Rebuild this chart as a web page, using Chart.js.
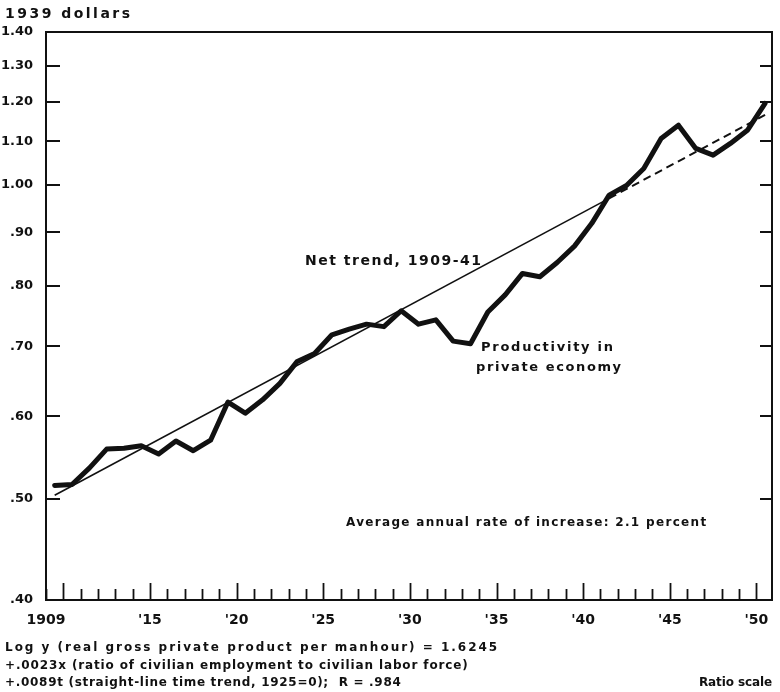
<!DOCTYPE html>
<html>
<head>
<meta charset="utf-8">
<script src="https://cdn.jsdelivr.net/npm/chart.js@4.4.1/dist/chart.umd.min.js"></script>
<style>
  html, body { margin: 0; padding: 0; background: #fff; }
  #wrap { width: 780px; height: 692px; }
</style>
</head>
<body>
<div id="wrap"><canvas id="chart" width="780" height="692"></canvas></div>
<script>
// productivity per manhour, 1939 dollars
const years = [1909, 1910, 1911, 1912, 1913, 1914, 1915, 1916, 1917, 1918,
  1919, 1920, 1921, 1922, 1923, 1924, 1925, 1926, 1927, 1928,
  1929, 1930, 1931, 1932, 1933, 1934, 1935, 1936, 1937, 1938,
  1939, 1940, 1941, 1942, 1943, 1944, 1945, 1946, 1947, 1948,
  1949, 1950];
const productivity = [0.515, 0.516, 0.535, 0.558, 0.559, 0.562, 0.552, 0.568, 0.556, 0.569,
  0.619, 0.604, 0.622, 0.645, 0.677, 0.689, 0.718, 0.727, 0.735, 0.731,
  0.757, 0.735, 0.742, 0.708, 0.704, 0.755, 0.784, 0.822, 0.816, 0.842,
  0.873, 0.918, 0.977, 0.998, 1.036, 1.107, 1.140, 1.083, 1.067, 1.095,
  1.128, 1.196];

// net trend 1909-41 (solid) and its extension (dashed)
const trendYears = [1909, 1941];
const trendValues = [0.504, 0.970];
const trendExtYears = [1941, 1950];
const trendExtValues = [0.970, 1.166];

const yTicks = [0.40, 0.50, 0.60, 0.70, 0.80, 0.90, 1.00, 1.10, 1.20, 1.30, 1.40];
const yTickLabels = ['.40', '.50', '.60', '.70', '.80', '.90', '1.00', '1.10', '1.20', '1.30', '1.40'];
const xLabelYears = [1909, 1915, 1920, 1925, 1930, 1935, 1940, 1945, 1950];
const xTickLabels = ['1909', "'15", "'20", "'25", "'30", "'35", "'40", "'45", "'50"];

const INK = '#111';
const FONT = '"DejaVu Sans", sans-serif';

// plotted at mid-year
const pts = (xs, vs) => xs.map((yr, i) => ({ x: yr + 0.5, y: vs[i] }));

function fitText(ctx, text, x, y, width, font) {
  ctx.font = font;
  ctx.letterSpacing = '0px';
  const w = ctx.measureText(text).width;
  const sp = (width - w) / Math.max(1, text.length - 1);
  ctx.letterSpacing = sp.toFixed(2) + 'px';
  ctx.fillText(text, x, y);
  ctx.letterSpacing = '0px';
}

const framePlugin = {
  id: 'frame',
  afterDraw(chart) {
    const { ctx, chartArea: a, scales: { x, y } } = chart;
    ctx.save();
    ctx.strokeStyle = INK;
    ctx.fillStyle = INK;

    // box
    ctx.lineWidth = 2;
    ctx.strokeRect(a.left, a.top, a.right - a.left, a.bottom - a.top);

    // y ticks, inward on both sides
    yTicks.forEach(v => {
      const py = Math.round(y.getPixelForValue(v));
      ctx.beginPath();
      ctx.moveTo(a.left, py); ctx.lineTo(a.left + 14, py);
      ctx.moveTo(a.right, py); ctx.lineTo(a.right - 12, py);
      ctx.stroke();
    });

    // x ticks, every year, longer at each 5
    ctx.lineWidth = 1.8;
    years.forEach(yr => {
      const px = Math.round(x.getPixelForValue(yr)) + 0.5;
      const len = yr % 5 === 0 ? 17 : 11;
      ctx.beginPath();
      ctx.moveTo(px, a.bottom); ctx.lineTo(px, a.bottom - len);
      ctx.stroke();
    });

    // texts
    ctx.textBaseline = 'middle';
    ctx.textAlign = 'left';
    const big = 'bold 14px ' + FONT;
    const mid = 'bold 13px ' + FONT;
    const small = 'bold 12px ' + FONT;
    fitText(ctx, '1939 dollars', 5, 14, 125, big);
    fitText(ctx, 'Net trend, 1909-41', 305, 261, 176, big);
    fitText(ctx, 'Productivity in', 481, 348, 132, mid);
    fitText(ctx, 'private economy', 476, 368, 145, mid);
    fitText(ctx, 'Average annual rate of increase: 2.1 percent', 346, 523, 360, small);
    fitText(ctx, 'Log y (real gross private product per manhour) = 1.6245', 5, 648, 492, small);
    fitText(ctx, '+.0023x (ratio of civilian employment to civilian labor force)', 5, 666, 463, small);
    fitText(ctx, '+.0089t (straight-line time trend, 1925=0);  R = .984', 5, 683, 396, small);
    fitText(ctx, 'Ratio scale', 699, 683, 73, small);
    ctx.restore();
  }
};

const chart = new Chart(document.getElementById('chart'), {
  type: 'line',
  data: {
    datasets: [
      {
        label: 'Productivity in private economy',
        data: pts(years, productivity),
        borderColor: INK,
        borderWidth: 5,
        borderJoinStyle: 'round',
        borderCapStyle: 'round',
        pointRadius: 0,
        tension: 0
      },
      {
        label: 'Net trend, 1909-41',
        data: pts(trendYears, trendValues),
        borderColor: INK,
        borderWidth: 1.6,
        pointRadius: 0,
        tension: 0
      },
      {
        label: 'Trend extension',
        data: pts(trendExtYears, trendExtValues),
        borderColor: INK,
        borderWidth: 2,
        borderDash: [8, 5],
        pointRadius: 0,
        tension: 0
      }
    ]
  },
  options: {
    responsive: false,
    animation: false,
    devicePixelRatio: 1,
    layout: { padding: { top: 32, right: 8, left: 0, bottom: 0 } },
    plugins: { legend: { display: false }, tooltip: { enabled: false } },
    scales: {
      x: {
        type: 'linear',
        min: 1909,
        max: 1950.9,
        grid: { display: false },
        border: { display: false },
        afterBuildTicks: s => { s.ticks = xLabelYears.map(v => ({ value: v })); },
        afterFit: s => { s.height = 92; },
        ticks: {
          autoSkip: false,
          maxRotation: 0,
          padding: 4,
          color: INK,
          font: { family: FONT, size: 14, weight: 'bold' },
          callback: v => xTickLabels[xLabelYears.indexOf(v)]
        }
      },
      y: {
        type: 'logarithmic',
        min: 0.4,
        max: 1.4,
        grid: { display: false },
        border: { display: false },
        afterBuildTicks: s => { s.ticks = yTicks.map(v => ({ value: v })); },
        afterFit: s => { s.width = 46; },
        ticks: {
          autoSkip: false,
          padding: 5,
          color: INK,
          font: { family: FONT, size: 13, weight: 'bold' },
          callback: v => yTickLabels[yTicks.indexOf(v)]
        }
      }
    }
  },
  plugins: [framePlugin]
});
</script>
</body>
</html>
